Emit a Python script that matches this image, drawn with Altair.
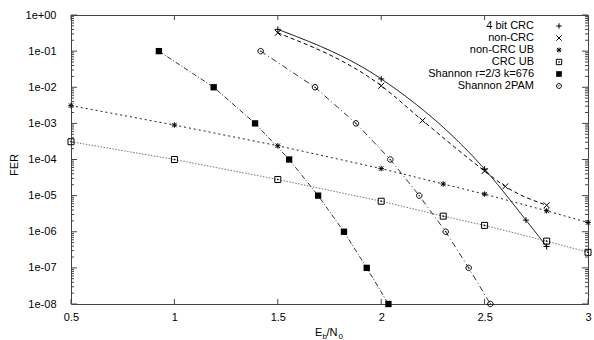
import altair as alt
import pandas as pd

# ---------------- data ----------------
crc4_x = [1.5, 2.0, 2.5, 2.7, 2.8]
crc4_y = [4.0e-1, 1.7e-2, 5.4e-5, 2.1e-6, 3.9e-7]

noncrc_x = [1.5, 2.0, 2.2, 2.5, 2.6, 2.8]
noncrc_y = [3.2e-1, 1.1e-2, 1.2e-3, 4.8e-5, 1.8e-5, 5.4e-6]

noncrcub_x = [0.5, 1.0, 1.5, 2.0, 2.3, 2.5, 2.8, 3.0]
noncrcub_y = [3.1e-3, 9.0e-4, 2.4e-4, 5.6e-5, 2.1e-5, 1.1e-5, 3.8e-6, 1.8e-6]

crcub_x = [0.5, 1.0, 1.5, 2.0, 2.3, 2.5, 2.8, 3.0]
crcub_y = [3.1e-4, 1.0e-4, 2.8e-5, 7.0e-6, 2.7e-6, 1.5e-6, 5.5e-7, 2.7e-7]

sh676_x = [0.925, 1.19, 1.39, 1.555, 1.695, 1.82, 1.93, 2.035]
sh676_y = [1e-1, 1e-2, 1e-3, 1e-4, 1e-5, 1e-6, 1e-7, 1e-8]

sh2pam_x = [1.417, 1.68, 1.878, 2.044, 2.184, 2.312, 2.423, 2.528]
sh2pam_y = [1e-1, 1e-2, 1e-3, 1e-4, 1e-5, 1e-6, 1e-7, 1e-8]

series_names = ["4 bit CRC", "non-CRC", "non-CRC UB", "CRC UB",
                "Shannon r=2/3 k=676", "Shannon 2PAM"]

x_ticks = [0.5, 1.0, 1.5, 2.0, 2.5, 3.0]
y_major = [1e-8, 1e-7, 1e-6, 1e-5, 1e-4, 1e-3, 1e-2, 1e-1, 1e0]
y_minor = [m * 10.0 ** e for e in range(-8, 0) for m in range(2, 10)]

# ---------------- styling ----------------
W, H = 517, 289
FONT = "Liberation Sans"
xs = alt.Scale(domain=[0.5, 3], nice=False, zero=False)
ys = alt.Scale(type="log", domain=[1e-8, 1], nice=False)

PLUS = "M-1,0L1,0M0,-1L0,1"
CROSS = "M-1,-1L1,1M-1,1L1,-1"
STAR = "M-1,0L1,0M0,-1L0,1M-0.8,-0.8L0.8,0.8M-0.8,0.8L0.8,-0.8"
BOXDOT = "M-1,-1L1,-1L1,1L-1,1Z M-0.12,-0.12L0.12,-0.12L0.12,0.12L-0.12,0.12Z"
CIRCDOT = ("M-1,0A1,1,0,1,1,1,0A1,1,0,1,1,-1,0Z "
           "M-0.12,0A0.12,0.12,0,1,1,0.12,0A0.12,0.12,0,1,1,-0.12,0Z")

styles = [
    # x, y, shape, filled, size, line colour, dash, interpolate
    (crc4_x, crc4_y, PLUS, False, 36, "#000000", [1, 0], "monotone"),
    (noncrc_x, noncrc_y, CROSS, False, 36, "#000000", [4, 3], "monotone"),
    (noncrcub_x, noncrcub_y, STAR, False, 30, "#222222", [2, 3], "linear"),
    (crcub_x, crcub_y, BOXDOT, False, 36, "#777777", [1.5, 1.5], "linear"),
    (sh676_x, sh676_y, "square", True, 40, "#333333", [5, 2, 1, 2], "linear"),
    (sh2pam_x, sh2pam_y, CIRCDOT, False, 30, "#333333", [6, 3, 1, 3], "linear"),
]

label_expr = ("'1e' + (round(log(datum.value)/LN10) >= 0 ? '+' : '-') + "
              "pad(abs(round(log(datum.value)/LN10)) + '', 2, '0', 'left')")

x_axis = alt.Axis(values=x_ticks, format="~g", ticks=False, domain=False,
                  grid=False, labelFontSize=11, labelFont=FONT,
                  labelColor="black", labelPadding=7, labelFlush=False,
                  title=None)
y_axis = alt.Axis(values=y_major, labelExpr=label_expr, ticks=False,
                  domain=False, grid=False, labelFontSize=11, labelFont=FONT,
                  labelColor="black", labelPadding=15, labelFlush=False,
                  title=None)


def X(field):
    return alt.X(field, scale=xs, axis=x_axis)


def Y(field):
    return alt.Y(field, scale=ys, axis=y_axis)


layers = []
for (x, y, shape, filled, size, col, dash, interp) in styles:
    df = pd.DataFrame({"x": x, "y": y})
    line = alt.Chart(df).mark_line(
        color=col, strokeWidth=1, strokeDash=dash, interpolate=interp
    ).encode(x=X("x:Q"), y=Y("y:Q"))
    pts = alt.Chart(df).mark_point(
        shape=shape, filled=filled, size=size, color="black",
        strokeWidth=1, opacity=1
    ).encode(x=X("x:Q"), y=Y("y:Q"))
    layers += [line, pts]

# ---------------- inward ticks on all four sides ----------------
tick_col = "#444444"
xt = pd.DataFrame({"x": x_ticks})
ymaj = pd.DataFrame({"y": y_major})
ymin = pd.DataFrame({"y": y_minor})
for y0, y1 in [(H, H - 5), (0, 5)]:
    layers.append(alt.Chart(xt).mark_rule(color=tick_col, strokeWidth=1).encode(
        x=X("x:Q"), y=alt.value(y0), y2=alt.value(y1)))
for dfv, ln in [(ymaj, 6), (ymin, 3)]:
    for x0, x1 in [(0, ln), (W - ln, W)]:
        layers.append(alt.Chart(dfv).mark_rule(color=tick_col, strokeWidth=1).encode(
            y=Y("y:Q"), x=alt.value(x0), x2=alt.value(x1)))

# ---------------- key (text right aligned, marker to the right) ----------------
for i, (name, st) in enumerate(zip(series_names, styles)):
    yy = 11 + 12 * i
    one = pd.DataFrame({"t": [name]})
    layers.append(alt.Chart(one).mark_text(
        align="right", baseline="middle", font=FONT, fontSize=11, color="black"
    ).encode(text="t:N", x=alt.value(463), y=alt.value(yy)))
    layers.append(alt.Chart(one).mark_point(
        shape=st[2], filled=st[3], size=st[4] * 0.8, color="black",
        strokeWidth=1, opacity=1
    ).encode(x=alt.value(488), y=alt.value(yy)))

# ---------------- axis titles: FER and E_b/N_0 with subscripts ----------------
layers.append(alt.Chart(pd.DataFrame({"t": ["FER"]})).mark_text(
    align="center", baseline="middle", font=FONT, fontSize=11, color="black",
    angle=270
).encode(text="t:N", x=alt.value(-56), y=alt.value(150)))

title_parts = [("E", 244, 321, 11), ("b", 251.5, 324, 8),
               ("/N", 255.5, 321, 11), ("0", 267.5, 324, 8)]
for txt, px, py, fs in title_parts:
    layers.append(alt.Chart(pd.DataFrame({"t": [txt]})).mark_text(
        align="left", baseline="alphabetic", font=FONT, fontSize=fs,
        color="black"
    ).encode(text="t:N", x=alt.value(px), y=alt.value(py)))

chart = alt.layer(*layers).properties(
    width=W, height=H,
    autosize=alt.AutoSizeParams(type="none"),
    padding={"left": 71, "top": 15, "right": 6, "bottom": 36},
    background="white",
).configure_view(stroke="#444444", strokeWidth=1)

chart.save("out.html", embed_options={"renderer": "svg", "actions": False})
